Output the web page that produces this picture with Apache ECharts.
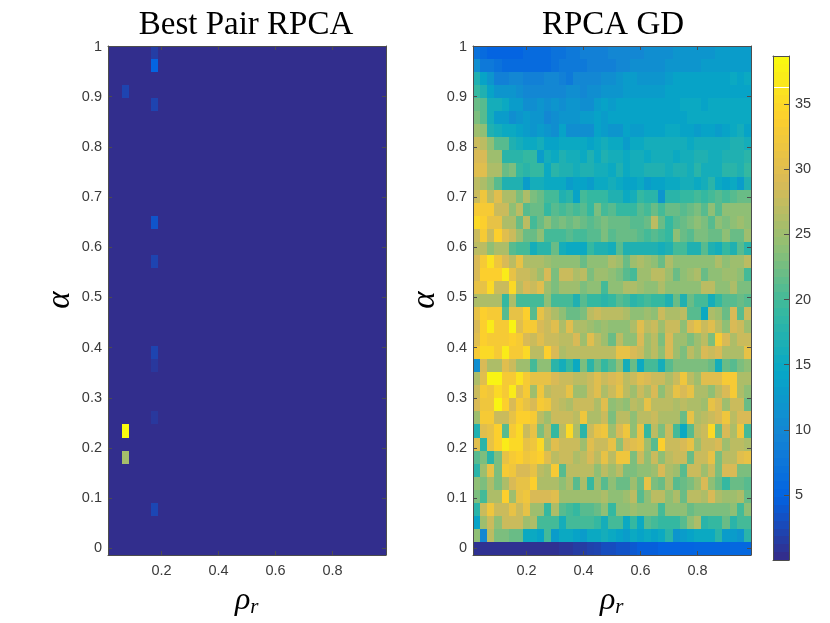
<!DOCTYPE html>
<html>
<head>
<meta charset="utf-8">
<script src="https://cdn.jsdelivr.net/npm/echarts@6/dist/echarts.min.js"></script>
<style>
html, body { margin: 0; padding: 0; background: #fff; }
#main { width: 830px; height: 623px; }
</style>
</head>
<body>
<div id="main"></div>
<script>
var titles = ['Best Pair RPCA', 'RPCA GD'];
var rhoTicks = [0.2, 0.4, 0.6, 0.8];
var alphaTicks = [0, 0.1, 0.2, 0.3, 0.4, 0.5, 0.6, 0.7, 0.8, 0.9, 1];
var barTicks = [5, 10, 15, 20, 25, 30, 35];
var parula = ['#352a87', '#0363e1', '#1485d4', '#06a7c6', '#38b99e', '#92bf73', '#d9ba56', '#fcce2e', '#f9fb0e'];

// grid of the runs: rho = 0.025 .. 0.975, alpha = 0 .. 0.988
var rhoStep = 0.025;
var alphaStep = 0.026;
var nCols = 39;
var nRows = 39;
var valueMin = 0;
var valueMax = 38.7;

// left panel is flat except for a few cells: [col, row from bottom, value]
var bestPairFlat = 0.3;
var bestPairCells = [
    [2, 9, 38.7], [2, 7, 25.5], [2, 35, 2.2], [6, 38, 1.6], [6, 37, 5],
    [6, 34, 2.2], [6, 25, 3.6], [6, 22, 2.2], [6, 15, 2.2], [6, 14, 1.2],
    [6, 10, 1.2], [6, 3, 2.4]
];

// right panel, top row first
var rpcaGdRows = [
    [ 7, 6, 5, 5, 5, 5, 5, 6, 6, 6,  6, 7, 7, 8, 8, 9, 9, 9, 9,10, 10,10,10,10,11,11,11,11,12,12, 12,12,12,12,13,13,13,13,13],
    [11, 8, 8, 7, 6, 6, 6, 6, 6, 6,  6, 7, 8, 8, 8, 8, 9, 9, 9, 9, 10,10,11,11,11,11,11,12,12,12, 12,12,13,13,13,13,13,13,13],
    [17,14,12, 9, 9,10,10, 9, 9, 9, 10,10, 9, 8,10,10,10,10,11,11, 12,13,13,12,12,12,12,13,14,14, 14,14,14,14,14,14,15,14,15],
    [19,17,14,12,12,12,11,10,10,10, 10,10,10,11,11,10,11,11,12,12, 12,13,13,13,13,13,13,14,14,14, 14,14,14,14,14,14,14,14,14],
    [22,21,16,16,15,13,13,11,11,12, 11,12,11,12,12,11,11,13,14,13, 14,14,14,14,14,14,14,14,14,15, 15,15,14,15,15,15,15,15,15],
    [23,21,16,13,13,11,12,13,12,12, 10,11,12,12,12,13,13,14,13,14, 14,14,14,14,14,14,14,14,14,14, 15,15,15,15,15,15,15,15,15],
    [25,24,17,16,15,15,14,13,12,13, 12,11,14,11,11,11,11,14,13,12, 12,14,13,13,14,14,14,15,15,14, 14,13,14,14,13,14,15,16,14],
    [28,27,24,21,21,17,16,15,15,16, 14,14,15,15,15,15,14,15,16,15, 15,13,15,15,16,16,16,16,16,16, 15,16,16,16,16,16,17,17,16],
    [29,29,25,25,18,18,18,19,19,13, 16,15,17,16,16,15,17,15,17,16, 16,15,16,16,15,16,16,16,15,16, 16,17,17,16,16,17,17,17,18],
    [30,30,26,26,22,23,19,18,19,19, 15,18,17,17,16,17,17,16,16,15, 17,15,16,16,17,17,17,16,17,17, 16,18,16,16,16,18,18,17,19],
    [27,26,24,21,17,17,17,13,16,16, 15,15,15,13,14,14,13,15,15,16, 15,14,14,15,13,14,14,15,15,16, 16,15,16,18,15,14,15,13,17],
    [28,32,27,30,26,26,23,26,23,22, 20,20,17,18,14,20,19,19,19,17, 17,15,16,19,18,18,12,18,18,19, 19,20,19,20,21,20,21,22,22],
    [33,33,33,28,28,24,27,21,22,22, 19,21,20,21,20,21,19,23,20,21, 19,19,19,21,20,22,20,22,22,21, 22,23,21,24,21,24,24,24,24],
    [35,34,31,31,26,26,22,27,20,22, 24,22,23,22,23,22,21,22,23,22, 22,22,21,21,22,27,22,19,21,22, 23,24,23,21,24,23,24,25,24],
    [28,33,28,34,30,28,25,22,22,24, 20,20,20,21,20,20,21,21,23,21, 22,22,22,21,20,21,20,19,24,22, 21,23,23,22,22,24,22,22,25],
    [27,27,24,26,26,21,20,20,16,18, 18,22,16,15,15,15,19,17,17,16, 21,17,17,17,17,17,16,17,20,20, 17,17,21,17,16,19,17,21,18],
    [29,33,36,32,29,27,31,26,26,26, 25,24,24,24,24,22,24,24,24,26, 25,22,25,26,25,24,22,26,24,24, 24,24,24,24,26,24,25,25,27],
    [29,34,34,34,37,31,28,28,27,25, 29,23,28,28,26,27,23,25,25,24, 23,21,20,25,25,27,27,25,22,24, 25,26,22,24,24,25,25,24,20],
    [31,31,35,28,28,35,27,29,28,30, 25,23,25,25,25,23,24,24,20,24, 24,26,26,25,24,24,26,24,24,24, 24,24,27,27,24,24,26,23,23],
    [26,26,26,26,19,26,20,20,20,20, 24,20,20,20,17,21,19,19,18,19, 21,20,18,19,20,19,19,17,22,17, 22,20,20,16,19,21,21,22,21],
    [31,34,33,33,21,31,31,34,21,31, 28,26,24,22,22,23,27,28,27,27, 27,26,24,24,25,24,28,26,26,27, 21,21,15,26,25,22,29,21,28],
    [29,34,37,33,33,38,30,33,33,29, 28,30,26,30,26,26,25,24,25,24, 24,24,26,30,27,28,25,28,28,24, 29,31,28,30,27,24,29,28,25],
    [30,34,33,33,33,34,33,29,28,30, 28,28,27,27,29,25,30,27,25,22, 27,24,24,29,25,27,23,29,25,25, 23,25,27,23,33,29,26,28,28],
    [33,35,35,33,37,33,33,35,27,27, 34,29,26,27,27,27,27,27,27,27, 31,31,29,28,25,27,24,29,25,23, 27,25,29,28,29,26,26,26,31],
    [11,29,26,26,30,28,25,25,20,24, 24,18,16,19,15,23,18,22,19,21, 24,16,22,15,20,20,16,21,23,23, 23,23,23,22,16,22,21,23,24],
    [26,30,38,38,33,33,36,33,31,31, 31,29,28,28,27,27,28,30,28,29, 30,27,28,30,29,28,28,26,28,32, 27,25,30,30,30,33,33,26,26],
    [28,33,32,35,33,37,30,33,25,32, 27,28,28,31,25,25,28,30,26,28, 31,27,25,28,26,29,24,27,31,29, 31,26,26,24,27,29,33,26,24],
    [29,32,32,38,34,29,33,31,29,33, 32,28,27,26,28,28,28,26,30,24, 25,24,27,26,31,27,27,27,26,27, 26,26,25,31,29,25,28,28,22],
    [25,33,33,28,28,31,34,34,33,27, 25,28,28,28,27,32,26,26,28,23, 27,27,24,27,27,28,26,26,26,22, 31,26,27,28,29,32,27,29,29],
    [17,30,31,34,21,33,35,28,31,23, 27,19,27,35,26,18,28,31,32,25, 29,32,24,31,19,27,23,28,20,15, 21,27,28,35,22,29,26,32,20],
    [30,18,31,34,37,35,35,31,32,35, 26,30,28,28,28,25,30,28,28,31, 24,29,30,31,25,21,34,28,28,29, 31,25,28,28,29,25,27,27,26],
    [21,23,18,23,31,33,34,32,33,34, 30,27,28,28,26,27,29,27,31,27, 32,32,23,28,24,28,24,27,28,28, 22,28,28,31,23,27,27,30,31],
    [18,25,31,23,33,32,29,29,31,27, 26,33,21,27,27,27,27,24,27,25, 27,23,23,24,24,25,29,26,25,21, 28,28,25,28,23,29,29,23,23],
    [24,23,26,23,26,29,31,31,34,26, 26,26,24,26,21,26,19,25,21,24, 22,22,25,22,31,23,22,26,21,22, 23,25,29,24,22,19,22,22,21],
    [23,20,26,26,34,25,31,32,29,29, 29,30,25,25,25,25,25,25,26,24, 24,25,27,21,24,27,27,24,26,22, 27,27,26,29,26,25,25,26,22],
    [18,28,32,28,28,31,28,31,25,25, 19,26,21,20,19,21,21,22,24,19, 24,24,25,24,24,24,20,24,24,24, 22,23,23,23,23,23,24,20,24],
    [14,25,28,24,28,28,28,25,26,20, 20,20,16,20,20,20,20,19,16,20, 20,15,19,15,21,20,19,19,19,21, 24,26,18,19,19,22,18,20,20],
    [24,10,27,23,23,22,22,15,15,14, 20,13,15,15,14,13,15,15,16,15, 14,13,15,14,15,14,15,18,12,13, 14,15,15,15,18,13,13,12,18],
    [.6,.6,.6,.6,.6,.6,.6,.6,.6,.6, .6,.6,1,1,1.5,1.5,2,2.2,3,3, 3.5,3.5,4,4.5,4.5,4.5,5,5,5,5, 5,5.2,5.2,5.2,5.2,5.2,5.5,5.5,5.5]
];

function bestPairData() {
    var out = [];
    for (var c = 0; c < nCols; c++) {
        for (var r = 0; r < nRows; r++) {
            out.push([(c + 1) * rhoStep, r * alphaStep, bestPairFlat]);
        }
    }
    bestPairCells.forEach(function (cell) {
        out[cell[0] * nRows + cell[1]][2] = cell[2];
    });
    return out;
}

function rpcaGdData() {
    var out = [];
    rpcaGdRows.forEach(function (row, i) {
        row.forEach(function (v, c) {
            out.push([(c + 1) * rhoStep, (nRows - 1 - i) * alphaStep, v]);
        });
    });
    return out;
}

// colorbar is 64 bands like a matlab colormap
var barBands = 64;
function barData() {
    var out = [];
    var h = (valueMax - valueMin) / barBands;
    for (var i = 0; i < barBands; i++) {
        out.push([0.5, valueMin + (i + 0.5) * h, valueMin + (i + 0.5) * h]);
    }
    return out;
}

function cellRenderer(w, h) {
    return function (params, api) {
        var a = api.coord([api.value(0) - w / 2, api.value(1) + h / 2]);
        var b = api.coord([api.value(0) + w / 2, api.value(1) - h / 2]);
        var x0 = Math.round(a[0]), y0 = Math.round(a[1]);
        return {
            type: 'rect',
            shape: {x: x0, y: y0, width: Math.round(b[0]) - x0, height: Math.round(b[1]) - y0},
            style: {fill: api.visual('color')}
        };
    };
}

var axisColor = '#4d4d4d';
var labelStyle = {color: '#3a3a3a', fontFamily: 'Liberation Sans', fontSize: 14.5};
var rhoMin = rhoStep / 2, rhoMax = rhoStep * 39.5;
var alphaMin = -alphaStep / 2, alphaMax = alphaStep * 38.5;

function xAxisFor(grid, pos, showLabel) {
    return {
        type: 'value', gridIndex: grid, position: pos, min: rhoMin, max: rhoMax,
        splitLine: {show: false},
        axisLine: {onZero: false, lineStyle: {color: axisColor, width: 1}},
        axisTick: {inside: true, length: 4, customValues: rhoTicks, lineStyle: {color: axisColor}},
        axisLabel: Object.assign({show: showLabel, customValues: rhoTicks, margin: 8}, labelStyle),
        z: 5
    };
}

function yAxisFor(grid, pos, showLabel) {
    return {
        type: 'value', gridIndex: grid, position: pos, min: alphaMin, max: alphaMax,
        splitLine: {show: false},
        axisLine: {onZero: false, lineStyle: {color: axisColor, width: 1}},
        axisTick: {inside: true, length: 4, customValues: alphaTicks, lineStyle: {color: axisColor}},
        axisLabel: Object.assign({show: showLabel, customValues: alphaTicks, margin: 6}, labelStyle),
        z: 5
    };
}

function titleFor(text, x) {
    return {
        text: text, left: x, top: 4, textAlign: 'center',
        textStyle: {fontFamily: 'Liberation Serif', fontWeight: 'normal', fontSize: 33, color: '#000'}
    };
}

// matlab rotates the y label, so the alpha lies on its side
function alphaLabel(x, y) {
    return {
        type: 'text', x: x, y: y, rotation: Math.PI / 2,
        style: {
            text: 'α', fill: '#000', textAlign: 'center', textVerticalAlign: 'middle',
            font: 'italic 33px "Liberation Serif"'
        }
    };
}

function rhoLabel(x, y) {
    return {
        type: 'text', left: x, top: y,
        style: {
            text: '{g|ρ}{s|r}',
            rich: {
                g: {fontFamily: 'Liberation Serif', fontStyle: 'italic', fontSize: 32, fill: '#000', color: '#000'},
                s: {fontFamily: 'Liberation Serif', fontStyle: 'italic', fontSize: 21, fill: '#000', color: '#000', padding: [12, 0, 0, 0]}
            }
        }
    };
}

var chart = echarts.init(document.getElementById('main'), null, {renderer: 'canvas'});
chart.setOption({
    animation: false,
    backgroundColor: '#fff',
    title: [titleFor(titles[0], 241), titleFor(titles[1], 608)],
    grid: [
        {left: 108, top: 46, width: 278, height: 509},
        {left: 473, top: 46, width: 278, height: 509},
        {left: 773, top: 56, width: 16, height: 504}
    ],
    xAxis: [
        xAxisFor(0, 'bottom', true), xAxisFor(0, 'top', false),
        xAxisFor(1, 'bottom', true), xAxisFor(1, 'top', false),
        {type: 'value', gridIndex: 2, min: 0, max: 1, position: 'bottom', splitLine: {show: false},
            axisLine: {onZero: false, lineStyle: {color: axisColor}}, axisTick: {show: false}, axisLabel: {show: false}, z: 5},
        {type: 'value', gridIndex: 2, min: 0, max: 1, position: 'top', splitLine: {show: false},
            axisLine: {onZero: false, lineStyle: {color: axisColor}}, axisTick: {show: false}, axisLabel: {show: false}, z: 5}
    ],
    yAxis: [
        yAxisFor(0, 'left', true), yAxisFor(0, 'right', false),
        yAxisFor(1, 'left', true), yAxisFor(1, 'right', false),
        {type: 'value', gridIndex: 2, min: valueMin, max: valueMax, position: 'right', splitLine: {show: false},
            axisLine: {onZero: false, lineStyle: {color: axisColor}},
            axisTick: {inside: true, length: 5, customValues: barTicks, lineStyle: {color: axisColor}},
            axisLabel: Object.assign({customValues: barTicks, margin: 6}, labelStyle), z: 5},
        {type: 'value', gridIndex: 2, min: valueMin, max: valueMax, position: 'left', splitLine: {show: false},
            axisLine: {onZero: false, lineStyle: {color: axisColor}}, axisTick: {show: false}, axisLabel: {show: false}, z: 5}
    ],
    visualMap: {
        show: false, type: 'continuous', dimension: 2, seriesIndex: [0, 1, 2],
        min: valueMin, max: valueMax, inRange: {color: parula}
    },
    series: [
        {type: 'custom', xAxisIndex: 0, yAxisIndex: 0, data: bestPairData(), encode: {x: 0, y: 1},
            renderItem: cellRenderer(rhoStep, alphaStep), silent: true},
        {type: 'custom', xAxisIndex: 2, yAxisIndex: 2, data: rpcaGdData(), encode: {x: 0, y: 1},
            renderItem: cellRenderer(rhoStep, alphaStep), silent: true},
        {type: 'custom', xAxisIndex: 4, yAxisIndex: 4, data: barData(), encode: {x: 0, y: 1},
            renderItem: cellRenderer(1, (valueMax - valueMin) / barBands), silent: true}
    ],
    graphic: [
        alphaLabel(60, 300), alphaLabel(425, 300),
        rhoLabel(235, 585), rhoLabel(600, 585)
    ]
});
</script>
</body>
</html>
